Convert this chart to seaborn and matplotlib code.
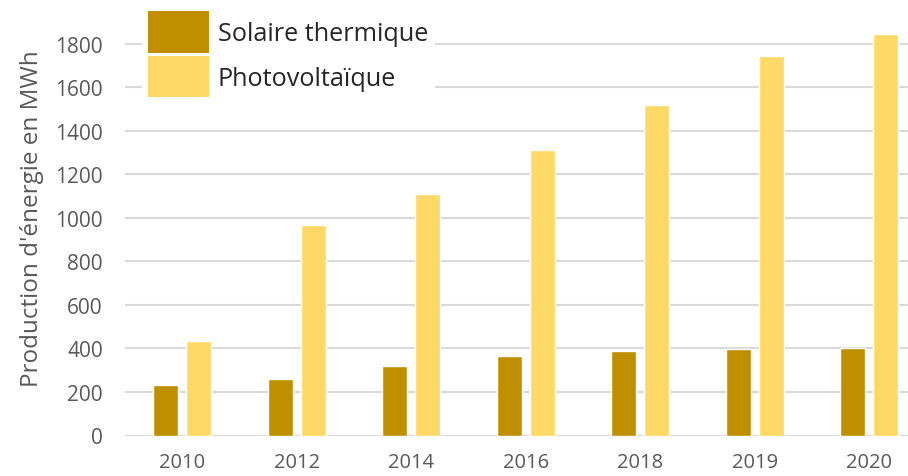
import matplotlib
matplotlib.use("Agg")
import matplotlib.pyplot as plt
import seaborn as sns
import pandas as pd
from matplotlib.patches import Patch

# Annual solar energy production (MWh)
years = ["2010", "2012", "2014", "2016", "2018", "2019", "2020"]
solaire_thermique = [230, 260, 320, 365, 388, 395, 402]
photovoltaique = [432, 966, 1110, 1311, 1518, 1742, 1842]
series_names = ["Solaire thermique", "Photovoltaïque"]
series_colors = ["#BF8F00", "#FFD966"]
y_ticks = [0, 200, 400, 600, 800, 1000, 1200, 1400, 1600, 1800]

df = pd.DataFrame({
    "Année": years * 2,
    "Production": solaire_thermique + photovoltaique,
    "Type": [series_names[0]] * len(years) + [series_names[1]] * len(years),
})

sns.set_theme(style="white")
plt.rcParams["font.family"] = ["Open Sans", "DejaVu Sans"]

fig = plt.figure(figsize=(9.08, 4.77), dpi=100)
ax = fig.add_axes([125 / 908, (477 - 436.5) / 477, 801.5 / 908, 435.5 / 477])

sns.barplot(
    data=df, x="Année", y="Production", hue="Type",
    palette=series_colors, saturation=1, width=0.573, gap=0.24,
    ax=ax, legend=False, zorder=3,
)

ax.set_ylim(0, 2000)
ax.set_xlim(-0.5, len(years) - 0.5)
ax.set_yticks(y_ticks)
ax.yaxis.grid(True, color="#D9D9D9", linewidth=1.5, zorder=0)
ax.set_axisbelow(True)
for s in ax.spines.values():
    s.set_visible(False)
ax.tick_params(axis="both", length=0, labelcolor="#595959")
ax.tick_params(axis="y", pad=16, labelsize=15)
ax.tick_params(axis="x", pad=12, labelsize=14.5)
ax.set_xlabel("")
ax.set_ylabel("Production d'énergie en MWh", fontsize=17.5, color="#595959", labelpad=8)

handles = [Patch(facecolor=c, edgecolor="none") for c in series_colors]
leg = fig.legend(
    handles, series_names, loc="upper left",
    bbox_to_anchor=(142 / 908, 1 - 6 / 477),
    fontsize=18.2, frameon=True, facecolor="white", edgecolor="none",
    framealpha=1, handlelength=2.4, handleheight=2.15, handletextpad=0.35,
    labelspacing=0.12, borderpad=0.25, borderaxespad=0,
)
for t in leg.get_texts():
    t.set_color("#262626")

fig.savefig("out.png", dpi=100)
